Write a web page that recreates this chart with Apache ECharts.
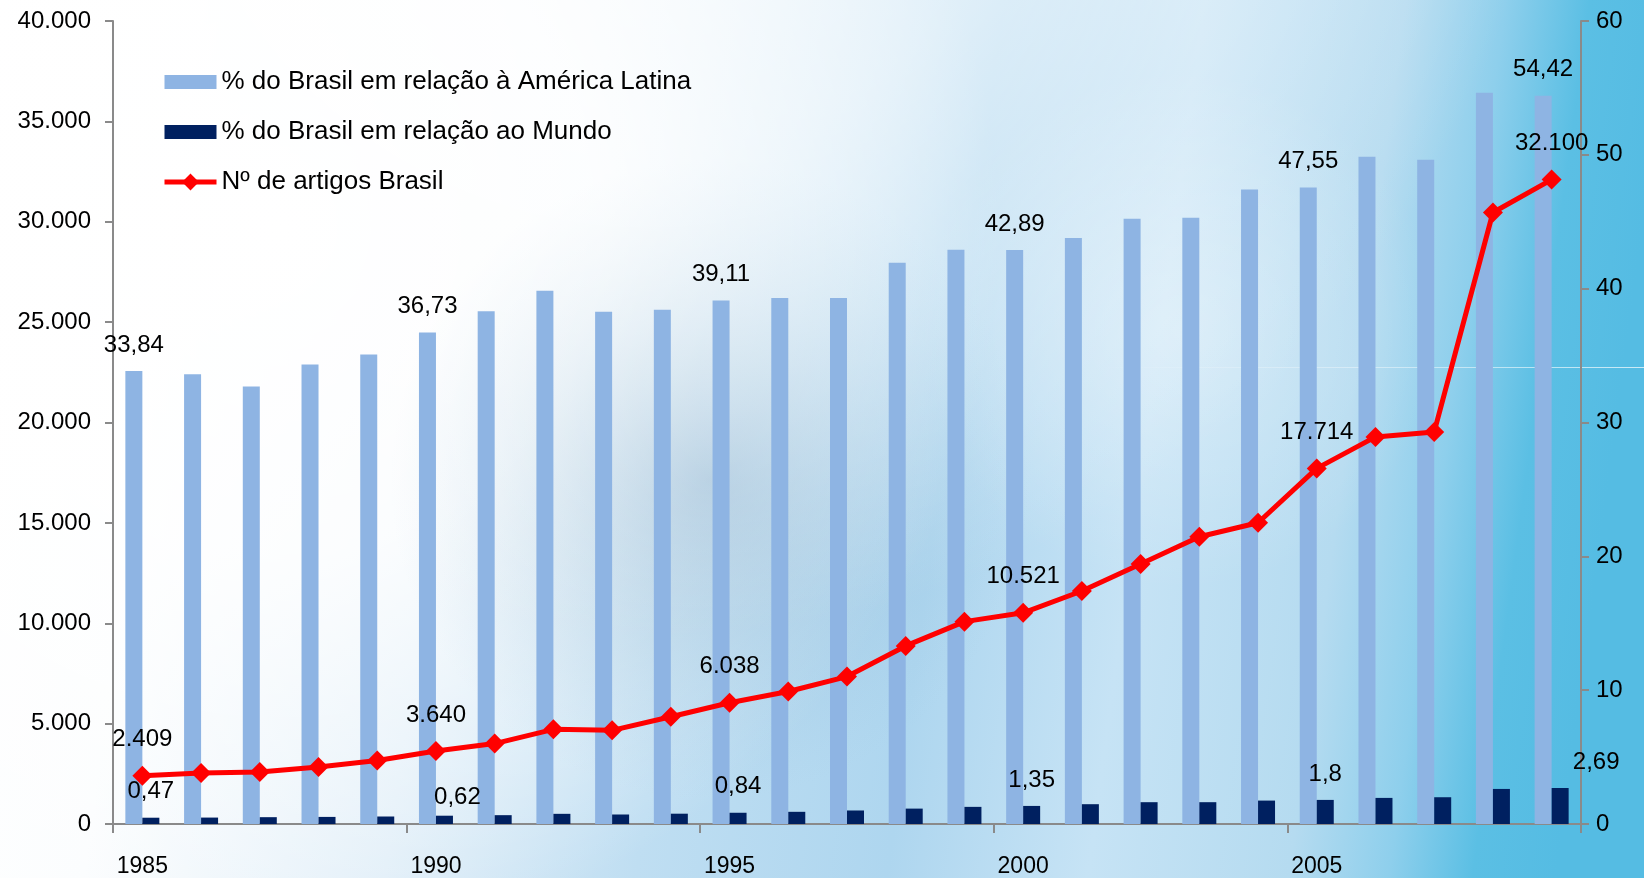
<!DOCTYPE html>
<html>
<head>
<meta charset="utf-8">
<script src="https://cdn.jsdelivr.net/npm/echarts@6/dist/echarts.min.js"></script>
<style>
html,body{margin:0;padding:0;background:#fff;}
#chart{width:1644px;height:878px;}
</style>
</head>
<body>
<div id="chart"></div>
<script>
// ---- data ----
const years = ['1985','1986','1987','1988','1989','1990','1991','1992','1993','1994','1995','1996','1997','1998','1999','2000','2001','2002','2003','2004','2005','2006','2007','2008','2009'];
const pctLatAm = [33.84, 33.61, 32.69, 34.33, 35.08, 36.73, 38.31, 39.85, 38.28, 38.43, 39.11, 39.30, 39.30, 41.94, 42.91, 42.89, 43.78, 45.22, 45.30, 47.41, 47.55, 49.85, 49.63, 54.63, 54.42];
const pctMundo = [0.47, 0.48, 0.51, 0.53, 0.56, 0.62, 0.66, 0.76, 0.71, 0.77, 0.84, 0.91, 1.01, 1.15, 1.28, 1.35, 1.48, 1.63, 1.63, 1.75, 1.80, 1.95, 2.00, 2.62, 2.69];
const artigos = [2409, 2540, 2590, 2840, 3160, 3640, 4005, 4715, 4665, 5340, 6038, 6600, 7345, 8870, 10080, 10521, 11607, 12950, 14308, 15005, 17714, 19283, 19532, 30460, 32100];
const labeledIdx = [0, 5, 10, 15, 20, 24];
const seriesNames = ['% do Brasil em relação à América Latina', '% do Brasil em relação ao Mundo', 'Nº de artigos Brasil'];
const leftTicks = {min: 0, max: 40000, interval: 5000};
const rightTicks = {min: 0, max: 60, interval: 10};

// ---- helpers ----
const fmtPct = v => String(v).replace('.', ',');
const fmtInt = v => String(v).replace(/\B(?=(\d{3})+(?!\d))/g, '.');
const FONT = 'Liberation Sans, Arial, sans-serif';

// special label nudges (as in the reference)
const mundoLabelOffset = {5: [13, 8], 24: [36, 0]};

function buildData(values, fmt, offsets) {
  return values.map((v, i) => {
    const show = labeledIdx.indexOf(i) >= 0;
    const item = {value: v};
    if (show) {
      item.label = {show: true, formatter: fmt(v)};
      if (offsets && offsets[i]) item.label.offset = offsets[i];
    }
    return item;
  });
}

const chart = echarts.init(document.getElementById('chart'), null, {renderer: 'canvas'});
const W = 1644, H = 878;

const option = {
  animation: false,
  backgroundColor: '#ffffff',
  graphic: [
    { type: 'rect', z: -10, silent: true, shape: {x: 0, y: 0, width: W, height: H},
      style: { fill: new echarts.graphic.LinearGradient(0, 0, 1, 0.25, [
        {offset: 0, color: '#ffffff'},
        {offset: 0.12, color: '#fbfdfe'},
        {offset: 0.3, color: '#e0eef8'},
        {offset: 0.45, color: '#bfdef2'},
        {offset: 0.6, color: '#aed6ef'},
        {offset: 0.72, color: '#c6e3f5'},
        {offset: 0.84, color: '#b5dbf0'},
        {offset: 0.9, color: '#8ecfec'},
        {offset: 0.95, color: '#5bbfe4'},
        {offset: 1, color: '#55bce3'}
      ]) } },
    { type: 'rect', z: -9, silent: true, shape: {x: 0, y: 0, width: W, height: H},
      style: { fill: {type: 'radial', x: 280, y: 230, r: 720, global: true, colorStops: [
        {offset: 0, color: 'rgba(255,255,255,1)'},
        {offset: 0.45, color: 'rgba(255,255,255,0.85)'},
        {offset: 1, color: 'rgba(255,255,255,0)'}
      ]} } },
    { type: 'rect', z: -8, silent: true, shape: {x: 0, y: 0, width: W, height: H},
      style: { fill: {type: 'radial', x: 710, y: 480, r: 320, global: true, colorStops: [
        {offset: 0, color: 'rgba(110,155,190,0.45)'},
        {offset: 0.55, color: 'rgba(130,175,205,0.2)'},
        {offset: 1, color: 'rgba(150,190,215,0)'}
      ]} } },
    { type: 'rect', z: -7, silent: true, shape: {x: 0, y: 0, width: W, height: H},
      style: { fill: {type: 'radial', x: 1180, y: 330, r: 260, global: true, colorStops: [
        {offset: 0, color: 'rgba(255,255,255,0.35)'},
        {offset: 1, color: 'rgba(255,255,255,0)'}
      ]} } },
    { type: 'rect', z: -6, silent: true, shape: {x: 0, y: 0, width: W, height: H},
      style: { fill: {type: 'radial', x: 650, y: -260, r: 900, global: true, colorStops: [
        {offset: 0, color: 'rgba(255,255,255,0.9)'},
        {offset: 0.45, color: 'rgba(255,255,255,0.6)'},
        {offset: 1, color: 'rgba(255,255,255,0)'}
      ]} } },
    { type: 'line', z: -5, silent: true, shape: {x1: 1100, y1: 367.5, x2: W, y2: 367.5},
      style: { lineWidth: 1, stroke: new echarts.graphic.LinearGradient(0, 0, 1, 0, [
        {offset: 0, color: 'rgba(255,255,255,0)'},
        {offset: 0.5, color: 'rgba(255,255,255,0.4)'},
        {offset: 1, color: 'rgba(255,255,255,0.7)'}
      ]) } }
  ],
  grid: {left: 113, right: 63, top: 21, bottom: 54, containLabel: false},
  legend: {
    orient: 'vertical', left: 157, top: 64,
    itemWidth: 52, itemHeight: 14, itemGap: 24,
    textStyle: {fontFamily: FONT, fontSize: 26, color: '#000'},
    data: [
      {name: seriesNames[0], icon: 'rect'},
      {name: seriesNames[1], icon: 'rect'},
      {name: seriesNames[2], lineStyle: {width: 5, color: '#ff0000'},
       itemStyle: {color: '#ff0000', borderColor: '#ff0000', borderWidth: 4}}
    ]
  },
  xAxis: {
    type: 'category', data: years, boundaryGap: true,
    axisLine: {show: true, lineStyle: {color: '#8a8a8a', width: 2}},
    axisTick: {show: true, interval: 4, length: 9, alignWithLabel: false, lineStyle: {color: '#8a8a8a', width: 2}},
    axisLabel: {interval: 4, margin: 31, fontFamily: FONT, fontSize: 23, color: '#000'},
    splitLine: {show: false}
  },
  yAxis: [
    { type: 'value', position: 'left', min: leftTicks.min, max: leftTicks.max, interval: leftTicks.interval,
      axisLine: {show: true, lineStyle: {color: '#8a8a8a', width: 2}},
      axisTick: {show: true, length: 8, lineStyle: {color: '#8a8a8a', width: 2}},
      axisLabel: {margin: 22, fontFamily: FONT, fontSize: 24, color: '#000', formatter: v => fmtInt(v)},
      splitLine: {show: false} },
    { type: 'value', position: 'right', min: rightTicks.min, max: rightTicks.max, interval: rightTicks.interval,
      axisLine: {show: true, lineStyle: {color: '#8a8a8a', width: 2}},
      axisTick: {show: true, length: 8, lineStyle: {color: '#8a8a8a', width: 2}},
      axisLabel: {margin: 15, fontFamily: FONT, fontSize: 24, color: '#000'},
      splitLine: {show: false} }
  ],
  series: [
    { name: seriesNames[0], type: 'bar', yAxisIndex: 1, barWidth: 17, barGap: '0%',
      itemStyle: {color: '#8eb4e3'},
      label: {position: 'top', distance: 14, fontFamily: FONT, fontSize: 24, color: '#000'},
      data: buildData(pctLatAm, fmtPct, null), z: 2 },
    { name: seriesNames[1], type: 'bar', yAxisIndex: 1, barWidth: 17, barGap: '0%',
      itemStyle: {color: '#002060'},
      label: {position: 'top', distance: 14, fontFamily: FONT, fontSize: 24, color: '#000'},
      data: buildData(pctMundo, fmtPct, mundoLabelOffset), z: 2 },
    { name: seriesNames[2], type: 'line', yAxisIndex: 0,
      symbol: 'diamond', symbolSize: 20,
      lineStyle: {color: '#ff0000', width: 5},
      itemStyle: {color: '#ff0000'},
      label: {position: 'top', distance: 14, fontFamily: FONT, fontSize: 24, color: '#000'},
      data: buildData(artigos, fmtInt, null), z: 3 }
  ]
};
chart.setOption(option);
</script>
</body>
</html>
